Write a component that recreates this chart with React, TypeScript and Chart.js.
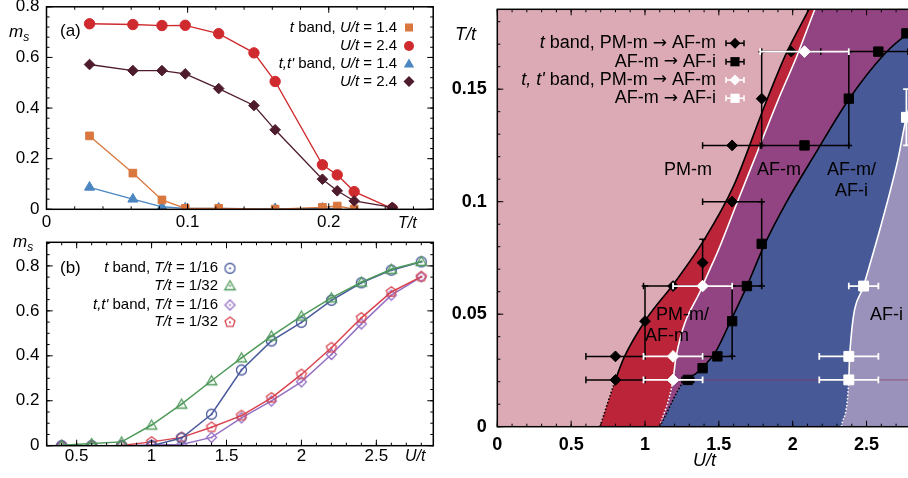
import React, { useEffect, useRef } from "react";
import { Chart, registerables } from "chart.js";

Chart.register(...registerables);

const FONT = '"Liberation Sans", Arial, Helvetica, sans-serif';
const ARROW_FONT = '"DejaVu Sans", sans-serif';

// ---------------- Panel (a): m_s vs T/t ----------------
const A_T_ALL = [0.0305, 0.0612, 0.0818, 0.0983, 0.122, 0.147, 0.162, 0.1955, 0.206, 0.218, 0.245];
const A_T_SQ = [0.0305, 0.0612, 0.0818, 0.0983, 0.122, 0.162, 0.1955, 0.206, 0.218];
const A_T_TRI = [0.0305, 0.0612, 0.0818, 0.0983, 0.122, 0.162, 0.1955, 0.206];
const A_TBAND_U14 = [0.29, 0.143, 0.037, 0.004, 0.004, 0.001, 0.008, 0.013, 0.001];
const A_TBAND_U24 = [0.733, 0.73, 0.726, 0.727, 0.694, 0.618, 0.505, 0.176, 0.136, 0.07, 0.003];
const A_TTP_U14 = [0.087, 0.04, 0.01, 0.004, 0.004, 0.002, 0.004, 0.004];
const A_TTP_U24 = [0.572, 0.548, 0.548, 0.535, 0.477, 0.41, 0.314, 0.119, 0.073, 0.033, 0.008];
const A_X_TICKS = [0, 0.1, 0.2];
const A_X_LABELS = ["0", "0.1", "0.2"];
const A_Y_TICKS = [0, 0.2, 0.4, 0.6, 0.8];
const A_Y_LABELS = ["0", "0.2", "0.4", "0.6", "0.8"];

// ---------------- Panel (b): m_s vs U/t ----------------
const B_U = [0.4, 0.6, 0.8, 1.0, 1.2, 1.4, 1.6, 1.8, 2.0, 2.2, 2.4, 2.6, 2.8];
const B_TBAND_T16 = [0, 0, 0, 0, 0.034, 0.14, 0.337, 0.466, 0.549, 0.647, 0.725, 0.781, 0.818];
const B_TBAND_T32 = [0.002, 0.01, 0.017, 0.092, 0.185, 0.289, 0.391, 0.488, 0.577, 0.658, 0.728, 0.785, 0.82];
const B_TTP_T16 = [0, 0, 0, 0.003, 0.005, 0.037, 0.124, 0.199, 0.284, 0.406, 0.542, 0.67, 0.751];
const B_TTP_T32 = [0, 0, 0.001, 0.017, 0.037, 0.082, 0.134, 0.213, 0.317, 0.436, 0.569, 0.684, 0.752];
const B_X_TICKS = [0.5, 1, 1.5, 2, 2.5];
const B_X_LABELS = ["0.5", "1", "1.5", "2", "2.5"];
const B_Y_TICKS = [0, 0.2, 0.4, 0.6, 0.8];
const B_Y_LABELS = ["0", "0.2", "0.4", "0.6", "0.8"];

// ---------------- Panel (c): phase diagram T/t vs U/t ----------------
const C_TD_U = [0.8, 0.8, 1.0, 1.19, 1.39, 1.59, 1.59, 1.79, 1.99];
const C_TD_T = [0.0208, 0.03125, 0.0469, 0.0625, 0.0729, 0.1, 0.125, 0.1458, 0.1667];
const C_TD_EU = [0.2, 0.2, 0, 0.2, 0, 0.2, 0.2, 0, 0.2];
const C_TD_ET = [0, 0, 0.0156, 0, 0.0104, 0, 0, 0.0208, 0];

const C_TS_U = [1.29, 1.39, 1.49, 1.59, 1.69, 1.79, 2.08, 2.38, 2.58, 2.77];
const C_TS_T = [0.0208, 0.026, 0.03125, 0.0469, 0.0625, 0.08125, 0.125, 0.1458, 0.1667, 0.1748];
const C_TS_EU = [0.04, 0, 0.1, 0, 0.1, 0, 0.3, 0, 0.2, 0];
const C_TS_ET = [0, 0, 0, 0.0156, 0, 0.01875, 0, 0.0208, 0, 0];

const C_WD_U = [1.19, 1.19, 1.39, 2.08];
const C_WD_T = [0.0208, 0.03125, 0.0625, 0.1667];
const C_WD_EU = [0.2, 0.2, 0.2, 0.3];

const C_WS_U = [2.38, 2.38, 2.48, 2.77];
const C_WS_T = [0.0208, 0.03125, 0.0625, 0.1375];
const C_WS_EU = [0.2, 0.2, 0.1, 0];
const C_WS_ET = [0, 0, 0, 0.0125];

// phase boundaries: first segment dotted; last point is an invisible extension used for the fill
const L1_U = [0.695, 0.8, 0.86, 1.0, 1.2, 1.4, 1.6, 1.8, 1.95, 2.11, 2.2, 3.5];
const L1_T = [0, 0.0208, 0.031, 0.047, 0.064, 0.083, 0.107, 0.141, 0.165, 0.1855, 0.197, 0.197];
const L2_U = [1.1, 1.19, 1.21, 1.39, 1.5, 1.62, 1.76, 1.9, 2.03, 2.15, 2.22, 3.5];
const L2_T = [0, 0.0208, 0.031, 0.0625, 0.079, 0.099, 0.122, 0.145, 0.165, 0.1855, 0.197, 0.197];
const L3_U = [1.1, 1.27, 1.34, 1.4, 1.48, 1.58, 1.69, 1.81, 1.96, 2.15, 2.375, 2.62, 2.77, 2.9, 3.0, 3.5];
const L3_T = [0, 0.0208, 0.0234, 0.027, 0.0335, 0.047, 0.0625, 0.081, 0.1, 0.121, 0.145, 0.1655, 0.174, 0.178, 0.18, 0.18];
const L4_U = [2.33, 2.38, 2.385, 2.48, 2.6, 2.71, 2.77, 2.86, 2.95, 3.05, 3.5];
const L4_T = [0, 0.0208, 0.031, 0.0625, 0.09, 0.118, 0.1375, 0.155, 0.18, 0.197, 0.197];
const HLINE_U = [1.29, 3.5];
const HLINE_T = [0.0208, 0.0208];

const C_X_TICKS = [0, 0.5, 1, 1.5, 2, 2.5];
const C_X_LABELS = ["0", "0.5", "1", "1.5", "2", "2.5"];
const C_Y_TICKS = [0, 0.05, 0.1, 0.15];
const C_Y_LABELS = ["0", "0.05", "0.1", "0.15"];

// text segments: n = normal, i = italic, b = bold, a = arrow glyph
type Seg = [string, "n" | "i" | "b" | "a"];

const A_LEGEND: Seg[][] = [
  [["t", "i"], [" band, ", "n"], ["U/t", "i"], [" = 1.4", "n"]],
  [["U/t", "i"], [" = 2.4", "n"]],
  [["t,t'", "i"], [" band, ", "n"], ["U/t", "i"], [" = 1.4", "n"]],
  [["U/t", "i"], [" = 2.4", "n"]],
];
const B_LEGEND: Seg[][] = [
  [["t", "i"], [" band, ", "n"], ["T/t", "i"], [" = 1/16", "n"]],
  [["T/t", "i"], [" = 1/32", "n"]],
  [["t,t'", "i"], [" band, ", "n"], ["T/t", "i"], [" = 1/16", "n"]],
  [["T/t", "i"], [" = 1/32", "n"]],
];
const C_LEGEND: Seg[][] = [
  [["t", "i"], [" band, PM-m ", "n"], ["\u2192", "a"], [" AF-m", "n"]],
  [["AF-m ", "n"], ["\u2192", "a"], [" AF-i", "n"]],
  [["t, t'", "i"], [" band, PM-m ", "n"], ["\u2192", "a"], [" AF-m", "n"]],
  [["AF-m ", "n"], ["\u2192", "a"], [" AF-i", "n"]],
];

// colours
const A_ORANGE = "#d9773f";
const A_RED = "#cf2a2e";
const A_BLUE = "#4b86c1";
const A_MAROON = "#4e1c2c";
const B_BLUE = "#4a5b9c";
const B_GREEN = "#4f9a5a";
const B_PURPLE = "#9570c4";
const B_RED = "#d8444f";
const C_PINK = "#dcaab5";
const C_REDF = "#bb2439";
const C_PURF = "#924381";
const C_BLUEF = "#475996";
const C_LILF = "#9a92bb";

const xy = (xs: number[], ys: number[]) => xs.map((x, i) => ({ x, y: ys[i] }));

function setFont(ctx: CanvasRenderingContext2D, size: number, st: string) {
  if (st === "a") ctx.font = `${Math.round(size * 0.95)}px ${ARROW_FONT}`;
  else if (st === "b") ctx.font = `bold ${size}px ${FONT}`;
  else ctx.font = `${st === "i" ? "italic " : ""}${size}px ${FONT}`;
}

function drawRich(
  ctx: CanvasRenderingContext2D,
  segs: Seg[],
  x: number,
  y: number,
  size: number,
  align: "left" | "right" | "center",
  color = "#000"
) {
  let w = 0;
  for (const [t, st] of segs) {
    setFont(ctx, size, st);
    w += ctx.measureText(t).width;
  }
  let cx = align === "right" ? x - w : align === "center" ? x - w / 2 : x;
  ctx.fillStyle = color;
  ctx.textAlign = "left";
  ctx.textBaseline = "middle";
  for (const [t, st] of segs) {
    setFont(ctx, size, st);
    ctx.fillText(t, cx, y);
    cx += ctx.measureText(t).width;
  }
}

function drawAxisLabels(
  chart: any, xt: number[], xl: string[], xLabelY: number,
  yt: number[], yl: string[], yLabelX: number, size: number, st: "n" | "b" = "n"
) {
  const ctx = chart.ctx as CanvasRenderingContext2D;
  const { x, y } = chart.scales;
  xt.forEach((v, i) => drawRich(ctx, [[xl[i], st]], x.getPixelForValue(v), xLabelY, size, "center"));
  yt.forEach((v, i) => drawRich(ctx, [[yl[i], st]], yLabelX, y.getPixelForValue(v), size, "right"));
}

function shape(ctx: CanvasRenderingContext2D, kind: string, x: number, y: number, r: number) {
  ctx.beginPath();
  if (kind === "circle") ctx.arc(x, y, r, 0, Math.PI * 2);
  else if (kind === "square") ctx.rect(x - r, y - r, 2 * r, 2 * r);
  else if (kind === "diamond") {
    ctx.moveTo(x, y - r);
    ctx.lineTo(x + r, y);
    ctx.lineTo(x, y + r);
    ctx.lineTo(x - r, y);
  } else if (kind === "triangle") {
    ctx.moveTo(x, y - r);
    ctx.lineTo(x + r * 0.866, y + r * 0.5);
    ctx.lineTo(x - r * 0.866, y + r * 0.5);
  } else if (kind === "pentagon") {
    for (let i = 0; i < 5; i++) {
      const a = -Math.PI / 2 + (i * 2 * Math.PI) / 5;
      const px = x + r * Math.cos(a);
      const py = y + r * Math.sin(a);
      if (i) ctx.lineTo(px, py);
      else ctx.moveTo(px, py);
    }
  }
  ctx.closePath();
}

function openMarker(kind: string, color: string, r: number) {
  const s = Math.ceil(2 * r + 5);
  const c = document.createElement("canvas");
  c.width = s;
  c.height = s;
  const g = c.getContext("2d")!;
  shape(g, kind, s / 2, s / 2 + (kind === "triangle" ? 1 : 0), r);
  g.strokeStyle = color;
  g.lineWidth = 1.3;
  g.stroke();
  g.beginPath();
  g.arc(s / 2, s / 2, 1.1, 0, Math.PI * 2);
  g.fillStyle = color;
  g.fill();
  return c;
}

function framePlugin(cfg: {
  xMajor: number; xMinor: number; yMajor: number; yMinor: number;
  majorLen: number; minorLen: number; lw: number;
}) {
  return {
    id: "frame",
    afterDatasetsDraw(chart: any) {
      const { ctx, chartArea: a, scales } = chart;
      const xs = scales.x, ys = scales.y;
      ctx.save();
      ctx.strokeStyle = "#000";
      ctx.lineWidth = 1;
      const ticks = (scale: any, step: number, len: number, horiz: boolean) => {
        const i0 = Math.ceil(scale.min / step - 1e-6);
        const i1 = Math.floor(scale.max / step + 1e-6);
        for (let i = i0; i <= i1; i++) {
          const p = scale.getPixelForValue(i * step);
          ctx.beginPath();
          if (horiz) {
            ctx.moveTo(p, a.bottom);
            ctx.lineTo(p, a.bottom - len);
            ctx.moveTo(p, a.top);
            ctx.lineTo(p, a.top + len);
          } else {
            ctx.moveTo(a.left, p);
            ctx.lineTo(a.left + len, p);
            ctx.moveTo(a.right, p);
            ctx.lineTo(a.right - len, p);
          }
          ctx.stroke();
        }
      };
      ticks(xs, cfg.xMinor, cfg.minorLen, true);
      ticks(xs, cfg.xMajor, cfg.majorLen, true);
      ticks(ys, cfg.yMinor, cfg.minorLen, false);
      ticks(ys, cfg.yMajor, cfg.majorLen, false);
      ctx.lineWidth = cfg.lw;
      ctx.strokeRect(a.left, a.top, a.width, a.height);
      ctx.restore();
    },
  };
}

const errorBarPlugin = {
  id: "errbars",
  beforeDatasetDraw(chart: any, args: any) {
    const ds: any = chart.data.datasets[args.index];
    if (!ds.errU && !ds.errT) return;
    const { ctx, scales } = chart;
    const x = scales.x, y = scales.y;
    ctx.save();
    ctx.strokeStyle = ds.errColor;
    ctx.lineWidth = ds.errWidth || 1.5;
    const cap = 3.3;
    ds.data.forEach((p: any, i: number) => {
      const eu = (ds.errU && ds.errU[i]) || 0;
      const et = (ds.errT && ds.errT[i]) || 0;
      const px = x.getPixelForValue(p.x);
      const py = y.getPixelForValue(p.y);
      ctx.beginPath();
      if (eu) {
        const l = x.getPixelForValue(p.x - eu);
        const r = x.getPixelForValue(p.x + eu);
        ctx.moveTo(l, py); ctx.lineTo(r, py);
        ctx.moveTo(l, py - cap); ctx.lineTo(l, py + cap);
        ctx.moveTo(r, py - cap); ctx.lineTo(r, py + cap);
      }
      if (et) {
        const t = y.getPixelForValue(p.y + et);
        const b = y.getPixelForValue(p.y - et);
        ctx.moveTo(px, t); ctx.lineTo(px, b);
        ctx.moveTo(px - cap, t); ctx.lineTo(px + cap, t);
        ctx.moveTo(px - cap, b); ctx.lineTo(px + cap, b);
      }
      ctx.stroke();
    });
    ctx.restore();
  },
};

const bgPlugin = (color: string) => ({
  id: "bgfill",
  beforeDatasetsDraw(chart: any) {
    const { ctx, chartArea: a } = chart;
    ctx.save();
    ctx.fillStyle = color;
    ctx.fillRect(a.left, a.top, a.width, a.height);
    ctx.restore();
  },
});

function axis(min: number, max: number, fit: (s: any) => void) {
  return {
    type: "linear" as const,
    min,
    max,
    afterFit: fit,
    grid: { display: false, drawTicks: false },
    border: { display: false },
    ticks: { display: false },
  };
}

const baseOptions = (padding: any, scales: any) => ({
  responsive: false,
  animation: false,
  events: [],
  layout: { padding },
  plugins: { legend: { display: false }, tooltip: { enabled: false } },
  scales,
});

function makeA(canvas: HTMLCanvasElement) {
  const textPlugin = {
    id: "textA",
    afterDraw(chart: any) {
      const ctx = chart.ctx as CanvasRenderingContext2D;
      ctx.save();
      drawAxisLabels(chart, A_X_TICKS, A_X_LABELS, 222, A_Y_TICKS, A_Y_LABELS, 39.5, 17);
      drawRich(ctx, [["(a)", "n"]], 60, 31, 17, "left");
      ctx.textBaseline = "alphabetic";
      ctx.textAlign = "left";
      ctx.fillStyle = "#000";
      setFont(ctx, 17, "i");
      ctx.fillText("m", 9, 37);
      const w = ctx.measureText("m").width;
      setFont(ctx, 12, "i");
      ctx.fillText("s", 9 + w, 40.5);
      drawRich(ctx, [["T/t", "i"]], 398, 223.5, 16, "left");
      const rows = [27.5, 46, 63.5, 81.5];
      const mk: [string, string, number][] = [
        ["square", A_ORANGE, 4],
        ["circle", A_RED, 5],
        ["triangle", A_BLUE, 6],
        ["diamond", A_MAROON, 5.5],
      ];
      rows.forEach((y, i) => {
        drawRich(ctx, A_LEGEND[i], 397, y, 15, "right");
        shape(ctx, mk[i][0], 409, y + (mk[i][0] === "triangle" ? 1 : 0), mk[i][2]);
        ctx.fillStyle = mk[i][1];
        ctx.fill();
      });
      ctx.restore();
    },
  };
  const line = (data: any, color: string, style: string, r: number, order: number) => ({
    data,
    showLine: true,
    borderColor: color,
    backgroundColor: color,
    borderWidth: 1.3,
    pointStyle: style,
    pointRadius: r,
    pointBackgroundColor: color,
    pointBorderColor: color,
    pointBorderWidth: 1,
    order,
  });
  return new Chart(canvas, {
    type: "scatter",
    data: {
      datasets: [
        line(xy(A_T_ALL, A_TTP_U24), A_MAROON, "rectRot", 5.3, 0),
        line(xy(A_T_ALL, A_TBAND_U24), A_RED, "circle", 5.2, 1),
        line(xy(A_T_SQ, A_TBAND_U14), A_ORANGE, "rect", 5.4, 2),
        line(xy(A_T_TRI, A_TTP_U14), A_BLUE, "triangle", 5.8, 3),
      ] as any,
    },
    options: baseOptions(
      { top: 6.7, right: 6.7, left: 0, bottom: 0 },
      {
        x: axis(0, 0.274, (s) => { s.height = 25.7; }),
        y: axis(0, 0.8, (s) => { s.width = 46.5; }),
      }
    ) as any,
    plugins: [
      framePlugin({ xMajor: 0.1, xMinor: 0.02, yMajor: 0.2, yMinor: 0.04, majorLen: 6, minorLen: 3, lw: 1.5 }),
      textPlugin,
    ],
  });
}

function makeB(canvas: HTMLCanvasElement) {
  const mBlue = openMarker("circle", B_BLUE, 5);
  const mGreen = openMarker("triangle", B_GREEN, 6);
  const mPurple = openMarker("diamond", B_PURPLE, 5);
  const mRed = openMarker("pentagon", B_RED, 5.2);
  const textPlugin = {
    id: "textB",
    afterDraw(chart: any) {
      const ctx = chart.ctx as CanvasRenderingContext2D;
      ctx.save();
      drawAxisLabels(chart, B_X_TICKS, B_X_LABELS, 221.7, B_Y_TICKS, B_Y_LABELS, 39.5, 17);
      drawRich(ctx, [["(b)", "n"]], 60, 33, 17, "left");
      ctx.textBaseline = "alphabetic";
      ctx.textAlign = "left";
      ctx.fillStyle = "#000";
      setFont(ctx, 17, "i");
      ctx.fillText("m", 13, 12);
      const w = ctx.measureText("m").width;
      setFont(ctx, 12, "i");
      ctx.fillText("s", 13 + w, 15.5);
      drawRich(ctx, [["U/t", "i"]], 405, 222, 16, "left");
      const rows = [33.3, 50.7, 70, 87.3];
      const imgs = [mBlue, mGreen, mPurple, mRed];
      rows.forEach((y, i) => {
        drawRich(ctx, B_LEGEND[i], 218, y, 15, "right");
        const im = imgs[i];
        ctx.drawImage(im, 230 - im.width / 2, y - im.height / 2);
      });
      ctx.restore();
    },
  };
  const line = (data: any, color: string, img: any, order: number) => ({
    data,
    showLine: true,
    borderColor: color,
    backgroundColor: color,
    borderWidth: 1.5,
    pointStyle: img,
    pointRadius: 5,
    order,
  });
  return new Chart(canvas, {
    type: "scatter",
    data: {
      datasets: [
        line(xy(B_U, B_TBAND_T32), B_GREEN, mGreen, 0),
        line(xy(B_U, B_TBAND_T16), B_BLUE, mBlue, 1),
        line(xy(B_U, B_TTP_T32), B_RED, mRed, 2),
        line(xy(B_U, B_TTP_T16), B_PURPLE, mPurple, 3),
      ] as any,
    },
    options: baseOptions(
      { top: 7.3, right: 6.7, left: 0, bottom: 0 },
      {
        x: axis(0.3, 2.88, (s) => { s.height = 32.3; }),
        y: axis(0, 0.905, (s) => { s.width = 46.7; }),
      }
    ) as any,
    plugins: [
      framePlugin({ xMajor: 0.5, xMinor: 0.1, yMajor: 0.2, yMinor: 0.05, majorLen: 6, minorLen: 3, lw: 1.5 }),
      textPlugin,
    ],
  });
}

function makeC(canvas: HTMLCanvasElement) {
  const fillSet = (us: number[], ts: number[], fillColor: string, order: number) => ({
    data: xy(us, ts),
    showLine: true,
    pointRadius: 0,
    borderWidth: 0,
    borderColor: "rgba(0,0,0,0)",
    backgroundColor: fillColor,
    fill: "start",
    cubicInterpolationMode: "monotone",
    order,
  });
  const strokeSet = (us: number[], ts: number[], color: string, order: number) => {
    const hiddenFrom = us.length - 2;
    return {
      data: xy(us, ts),
      showLine: true,
      pointRadius: 0,
      borderColor: color,
      borderWidth: 1.6,
      fill: false,
      cubicInterpolationMode: "monotone",
      order,
      segment: {
        borderDash: (c: any) => (c.p1DataIndex <= 1 ? [1.5, 2] : undefined),
        borderColor: (c: any) => (c.p0DataIndex >= hiddenFrom ? "rgba(0,0,0,0)" : undefined),
      },
    };
  };
  const markers = (
    us: number[], ts: number[], style: string, r: number, fillC: string,
    eu: number[] | null, et: number[] | null, order: number
  ) => ({
    data: xy(us, ts),
    showLine: false,
    pointStyle: style,
    pointRadius: r,
    pointBackgroundColor: fillC,
    pointBorderColor: fillC,
    pointBorderWidth: 1,
    errU: eu,
    errT: et,
    errColor: fillC,
    errWidth: fillC === "#000" ? 1.5 : 1.8,
    order,
  });
  const textPlugin = {
    id: "textC",
    afterDraw(chart: any) {
      const ctx = chart.ctx as CanvasRenderingContext2D;
      ctx.save();
      drawAxisLabels(chart, C_X_TICKS, C_X_LABELS, 445, C_Y_TICKS, C_Y_LABELS, 46.7, 18, "b");
      drawRich(ctx, [["T/t", "i"]], 15, 35, 18, "left");
      drawRich(ctx, [["U/t", "i"]], 264.5, 461, 18, "center");
      drawRich(ctx, [["PM-m", "n"]], 248, 170, 18, "center");
      drawRich(ctx, [["AF-m", "n"]], 339, 170, 18, "center");
      drawRich(ctx, [["AF-m/", "n"]], 411.5, 170, 18, "center");
      drawRich(ctx, [["AF-i", "n"]], 411.5, 191, 18, "center");
      drawRich(ctx, [["PM-m/", "n"]], 216, 315, 18, "left");
      drawRich(ctx, [["AF-m", "n"]], 205, 336, 18, "left");
      drawRich(ctx, [["AF-i", "n"]], 430, 315, 18, "left");
      const rows = [43.3, 61.7, 80, 98.3];
      const kinds: [string, string, number][] = [
        ["diamond", "#000", 5.5],
        ["square", "#000", 4.6],
        ["diamond", "#fff", 5.5],
        ["square", "#fff", 4.6],
      ];
      const mx = 295;
      rows.forEach((y, i) => {
        drawRich(ctx, C_LEGEND[i], 276, y, 18, "right");
        const col = kinds[i][1];
        ctx.strokeStyle = col;
        ctx.lineWidth = 1.5;
        ctx.beginPath();
        ctx.moveTo(mx - 9, y); ctx.lineTo(mx + 9, y);
        ctx.moveTo(mx - 9, y - 3); ctx.lineTo(mx - 9, y + 3);
        ctx.moveTo(mx + 9, y - 3); ctx.lineTo(mx + 9, y + 3);
        ctx.stroke();
        shape(ctx, kinds[i][0], mx, y, kinds[i][2]);
        ctx.fillStyle = col;
        ctx.fill();
      });
      ctx.restore();
    },
  };
  return new Chart(canvas, {
    type: "scatter",
    data: {
      datasets: [
        markers(C_WS_U, C_WS_T, "rect", 7, "#fff", C_WS_EU, C_WS_ET, 1),
        markers(C_WD_U, C_WD_T, "rectRot", 5.8, "#fff", C_WD_EU, null, 2),
        markers(C_TS_U, C_TS_T, "rect", 6.6, "#000", C_TS_EU, C_TS_ET, 3),
        markers(C_TD_U, C_TD_T, "rectRot", 5.4, "#000", C_TD_EU, C_TD_ET, 4),
        {
          data: xy(HLINE_U, HLINE_T),
          showLine: true,
          pointRadius: 0,
          borderColor: "rgba(140,55,95,0.7)",
          borderWidth: 1,
          fill: false,
          order: 5,
        },
        strokeSet(L4_U, L4_T, "#fff", 6),
        fillSet(L4_U, L4_T, C_LILF, 7),
        strokeSet(L3_U, L3_T, "#000", 8),
        fillSet(L3_U, L3_T, C_BLUEF, 9),
        strokeSet(L2_U, L2_T, "#fff", 10),
        fillSet(L2_U, L2_T, C_PURF, 11),
        strokeSet(L1_U, L1_T, "#000", 12),
        fillSet(L1_U, L1_T, C_REDF, 13),
      ] as any,
    },
    options: baseOptions(
      { top: 9.3, right: 19.6, left: 0, bottom: 0 },
      {
        x: axis(0, 3.0, (s) => { s.height = 51.3; }),
        y: axis(0, 0.1855, (s) => { s.width = 57.3; }),
      }
    ) as any,
    plugins: [
      bgPlugin(C_PINK),
      errorBarPlugin,
      framePlugin({ xMajor: 0.5, xMinor: 0.1, yMajor: 0.05, yMinor: 0.01, majorLen: 6, minorLen: 3, lw: 1.5 }),
      textPlugin,
    ],
  });
}

export default function App() {
  const ra = useRef<HTMLCanvasElement>(null);
  const rb = useRef<HTMLCanvasElement>(null);
  const rc = useRef<HTMLCanvasElement>(null);
  useEffect(() => {
    const charts = [makeA(ra.current!), makeB(rb.current!), makeC(rc.current!)];
    return () => charts.forEach((c) => c.destroy());
  }, []);
  return (
    <div
      style={{
        position: "fixed",
        left: 0,
        top: 0,
        width: 908,
        height: 478,
        overflow: "hidden",
        background: "#fff",
      }}
    >
      <canvas ref={ra} width={440} height={235} style={{ position: "absolute", left: 0, top: 0 }} />
      <canvas ref={rb} width={440} height={243} style={{ position: "absolute", left: 0, top: 235 }} />
      <canvas ref={rc} width={520} height={478} style={{ position: "absolute", left: 440, top: 0 }} />
    </div>
  );
}
